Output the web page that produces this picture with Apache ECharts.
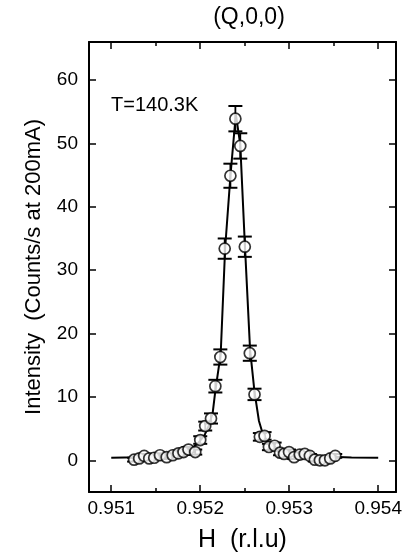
<!DOCTYPE html>
<html>
<head>
<meta charset="utf-8">
<script src="https://cdn.jsdelivr.net/npm/echarts@6/dist/echarts.min.js"></script>
<style>html,body{margin:0;padding:0;background:#fff}#c{width:405px;height:558px}</style>
</head>
<body>
<div id="c"></div>
<script>
// Measured points H (r.l.u) and intensity
const pointH = [0.951257,0.951314,0.951370,0.951427,0.951483,0.951548,0.951623,0.951691,0.951755,0.951812,0.951868,0.951944,0.952000,0.952056,0.952121,0.952170,0.952226,0.952275,0.952339,0.952395,0.952450,0.952501,0.952557,0.952610,0.952670,0.952723,0.952772,0.952836,0.952897,0.952942,0.952998,0.953055,0.953119,0.953175,0.953232,0.953288,0.953345,0.953401,0.953461,0.953517];
const pointI = [0.1,0.3,0.7,0.3,0.4,0.8,0.5,0.8,1.1,1.3,1.7,1.3,3.2,5.4,6.6,11.7,16.3,33.4,44.9,53.9,49.6,33.7,16.9,10.4,3.7,3.85,2.1,2.3,1.2,1.0,1.3,0.5,0.9,1.0,0.7,0.1,0.0,0.0,0.3,0.7];
const pointErr = [0.3,0.3,0.3,0.3,0.3,0.3,0.3,0.3,0.4,0.4,0.4,0.4,0.6,0.7,0.8,1.0,1.2,1.6,1.9,2.0,2.0,1.6,1.2,0.9,0.6,0.6,0.5,0.5,0.4,0.4,0.4,0.3,0.3,0.3,0.3,0.3,0.3,0.3,0.3,0.3];
// Fitted curve
const curveH = [0.9510,0.9513,0.9515,0.9517,0.9518,0.9519,0.95197,0.95205,0.9521,0.95214,0.95217,0.95223,0.95228,0.95234,0.95240,0.95245,0.95250,0.95256,0.95261,0.95266,0.95270,0.95275,0.9528,0.9529,0.9530,0.9532,0.9534,0.9537,0.9540];
const curveI = [0.4,0.5,0.7,1.0,1.3,1.9,2.6,4.0,5.6,7.5,11.0,16.8,33.5,45,54.6,49.8,34.5,17.5,10.8,6.2,4.3,3.1,2.4,1.6,1.2,0.8,0.6,0.45,0.4];
// Axis ticks
const xMajor = [0.951,0.952,0.953,0.954];
const xMinor = [0.9515,0.9525,0.9535];
const yMajor = [0,10,20,30,40,50,60];

const FONT = 'Liberation Sans';
const X_MIN = 0.95075, X_MAX = 0.9542, Y_MIN = -5, Y_MAX = 66;
const chart = echarts.init(document.getElementById('c'), null, {renderer:'canvas'});

function xAxisDef(pos, ticks, len, showLine, labels, name){
  return {
    type:'value', position:pos, min:X_MIN, max:X_MAX, gridIndex:0,
    axisLine:{show:showLine, onZero:false, lineStyle:{color:'#000', width:2}},
    axisTick:{show:true, inside:true, length:len, customValues:ticks, lineStyle:{color:'#000', width:1.5}},
    axisLabel:{show:labels, customValues:xMajor, margin:7, color:'#000', fontFamily:FONT, fontSize:19, formatter:v=>v.toFixed(3)},
    splitLine:{show:false},
    name:name||'', nameLocation:'middle', nameGap:36,
    nameTextStyle:{color:'#000', fontFamily:FONT, fontSize:25}
  };
}
function yAxisDef(pos, labels, name){
  return {
    type:'value', position:pos, min:Y_MIN, max:Y_MAX, gridIndex:0,
    axisLine:{show:true, onZero:false, lineStyle:{color:'#000', width:2}},
    axisTick:{show:true, inside:true, length:7, customValues:yMajor, lineStyle:{color:'#000', width:1.5}},
    axisLabel:{show:labels, customValues:yMajor, margin:11, color:'#000', fontFamily:FONT, fontSize:19},
    splitLine:{show:false},
    name:name||'', nameLocation:'middle', nameGap:44,
    nameTextStyle:{color:'#000', fontFamily:FONT, fontSize:22}
  };
}

const pts = pointH.map((h,i)=>[h, pointI[i], pointErr[i]]);

chart.setOption({
  animation:false,
  backgroundColor:'#fff',
  title:{text:'(Q,0,0)', left:244, top:1, textAlign:'center',
    textStyle:{color:'#000', fontFamily:FONT, fontSize:23, fontWeight:'normal'}},
  grid:{left:89, right:9, top:42, bottom:66},
  xAxis:[
    xAxisDef('bottom', xMajor, 7, true, true, 'H  (r.l.u)'),
    xAxisDef('bottom', xMinor, 4, false, false),
    xAxisDef('top', xMajor, 7, true, false),
    xAxisDef('top', xMinor, 4, false, false)
  ],
  yAxis:[
    yAxisDef('left', true, 'Intensity  (Counts/s at 200mA)'),
    yAxisDef('right', false)
  ],
  graphic:[{type:'text', left:111, top:95, style:{text:'T=140.3K', fill:'#000', font:'20px "Liberation Sans"'}}],
  series:[
    {type:'line', xAxisIndex:0, yAxisIndex:0, data:curveH.map((h,i)=>[h,curveI[i]]),
     showSymbol:false, lineStyle:{color:'#000', width:2}, z:2},
    {type:'custom', xAxisIndex:0, yAxisIndex:0, data:pts, z:3,
     renderItem:function(params, api){
       const x = api.value(0), y = api.value(1), e = api.value(2);
       const top = api.coord([x, y+e]), bot = api.coord([x, y-e]);
       const w = 7;
       return {type:'group', children:[
         {type:'line', shape:{x1:top[0], y1:top[1], x2:bot[0], y2:bot[1]}, style:{stroke:'#000', lineWidth:1.8}},
         {type:'line', shape:{x1:top[0]-w, y1:top[1], x2:top[0]+w, y2:top[1]}, style:{stroke:'#000', lineWidth:2}},
         {type:'line', shape:{x1:bot[0]-w, y1:bot[1], x2:bot[0]+w, y2:bot[1]}, style:{stroke:'#000', lineWidth:2}}
       ]};
     }},
    {type:'scatter', xAxisIndex:0, yAxisIndex:0, data:pts.map(p=>[p[0],p[1]]), z:4,
     symbol:'circle', symbolSize:11, itemStyle:{color:'#fff', borderColor:'#000', borderWidth:1.7}}
  ]
});
</script>
</body>
</html>
